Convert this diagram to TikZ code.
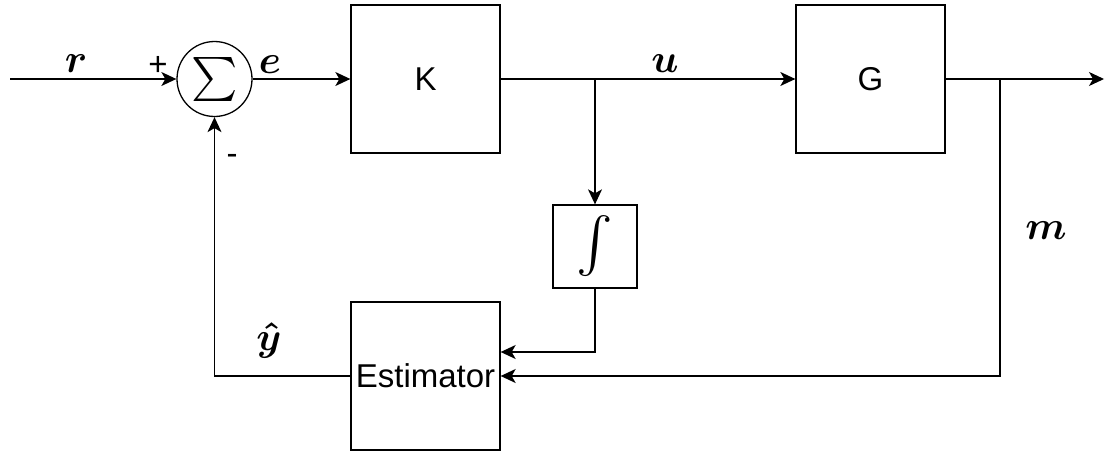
\documentclass[tikz,border=0pt]{standalone}
\usepackage{amsmath,bm}
\usepackage{fontspec}
\setmainfont{Liberation Sans}
\usetikzlibrary{arrows.meta}
\begin{document}
\begin{tikzpicture}[x=1pt,y=-1pt,
  line width=1.3pt,
  arr/.style={-{Stealth[length=15pt,width=14pt,inset=4pt]}},
  blockbox/.style={draw,minimum width=149pt,minimum height=148pt,inner sep=0pt,
    font=\fontsize{33}{39}\selectfont},
  lbl/.style={inner sep=0pt},
  sanslbl/.style={inner sep=0pt,anchor=base,font=\fontsize{33}{39}\selectfont}]
\useasboundingbox (0,0) rectangle (1105,455);
% blocks
\node[draw,circle,minimum size=75pt,inner sep=0pt] (sum) at (214.5,79) {\scalebox{4.4}{$\sum$}};
\node[blockbox] (K) at (425.5,79) {K};
\node[blockbox] (G) at (870.5,79) {G};
\node[blockbox] (est) at (425.5,376) {Estimator};
\node[draw,minimum width=84pt,minimum height=83pt,inner sep=0pt] (int) at (595,246.5) {\scalebox{5.5}{$\int$}};
% coordinates
\coordinate (in) at (10,79);
\coordinate (out) at (1104,79);
\coordinate (j1) at (595,79);
\coordinate (j2) at (1000,79);
% connectors
\draw[arr] (in) -- (sum.west);
\draw[arr] (sum.east) -- (K.west);
\draw[arr] (K.east) -- (G.west);
\draw[arr] (G.east) -- (out);
\draw[arr] (j1) -- (int.north);
\draw[arr] (int.south) |- ([yshift=24pt]est.east);
\draw[arr] (j2) |- (est.east);
\draw[arr] (est.west) -| (sum.south);
% labels
\node[lbl] (lr) at (76,64) {\scalebox{4}{$\bm{r}$}};
\node[lbl] (le) at (270,65) {\scalebox{4}{$\bm{e}$}};
\node[lbl] (lu) at (665,64) {\scalebox{4}{$\bm{u}$}};
\node[lbl] (lm) at (1046,231) {\scalebox{4}{$\bm{m}$}};
\node[lbl] (ly) at (269,340) {\scalebox{4}{\boldmath$\hat{y}$}};
\node[sanslbl] (lplus) at (158,75) {+};
\node[sanslbl] (lminus) at (232,164) {-};
\end{tikzpicture}
\end{document}
